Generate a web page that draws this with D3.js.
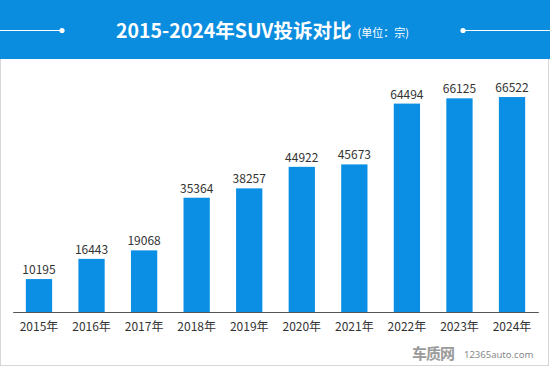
<!DOCTYPE html>
<html><head><meta charset="utf-8">
<script src="https://cdn.jsdelivr.net/npm/d3@7"></script>
<style>html,body{margin:0;padding:0;background:#fff;}svg{display:block;}</style>
</head><body>
<svg id="c" width="550" height="368"></svg>
<script>
const years = ["2015年","2016年","2017年","2018年","2019年","2020年","2021年","2022年","2023年","2024年"];
const complaints = [10195,16443,19068,35364,38257,44922,45673,64494,66125,66522];
const titleText = "2015-2024年SUV投诉对比";
const unitText = "(单位：宗)";

const svg = d3.select("#c");
const font = "'Microsoft YaHei','Noto Sans CJK SC','Noto Sans',sans-serif";

// frame
svg.append("rect").attr("x",0.5).attr("y",0.5).attr("width",548).attr("height",365)
  .attr("fill","#fff").attr("stroke","#d6d6d6").attr("stroke-width",1);

// header
svg.append("rect").attr("x",0).attr("y",0).attr("width",550).attr("height",59).attr("fill","#0b8ddf");
svg.append("line").attr("x1",0).attr("x2",62).attr("y1",30.5).attr("y2",30.5).attr("stroke","#fff").attr("stroke-width",1);
svg.append("circle").attr("cx",62).attr("cy",30.5).attr("r",2.6).attr("fill","#fff");
svg.append("line").attr("x1",463).attr("x2",550).attr("y1",30.5).attr("y2",30.5).attr("stroke","#fff").attr("stroke-width",1);
svg.append("circle").attr("cx",463).attr("cy",30.5).attr("r",2.6).attr("fill","#fff");

const t = svg.append("text").attr("x",116).attr("y",38).attr("fill","#fff").attr("font-family",font);
t.append("tspan").attr("font-size",19.5).attr("font-weight","bold").text(titleText);
t.append("tspan").attr("font-size",11).attr("dx",6).attr("dy",-1).text(unitText);

// chart
const x = d3.scaleBand().domain(years).range([12.7,538.3]).paddingInner(0.5).paddingOuter(0.25);
const y = d3.scaleLinear().domain([0,70000]).range([312,85.8]);

const g = svg.append("g");
g.selectAll("rect.bar").data(complaints).join("rect").attr("class","bar")
  .attr("x",(d,i)=>x(years[i])).attr("width",x.bandwidth())
  .attr("y",d=>y(d)).attr("height",d=>y(0)-y(d)).attr("fill","#0b8fe5");

g.selectAll("text.val").data(complaints).join("text").attr("class","val")
  .attr("x",(d,i)=>x(years[i])+x.bandwidth()/2).attr("y",d=>y(d)-5)
  .attr("text-anchor","middle").attr("font-size",12).attr("fill","#333").attr("font-family",font)
  .text(d=>d);

const ax = svg.append("g").attr("transform","translate(0,312)")
  .call(d3.axisBottom(x).tickSize(0).tickPadding(10));
ax.select(".domain").attr("stroke","#555");
ax.selectAll("text").attr("font-size",12).attr("fill","#333").attr("font-family",font);

// watermark
svg.append("text").attr("x",412).attr("y",359).attr("font-size",15).attr("font-weight","bold")
  .attr("fill","#9a9a9a").attr("font-family",font).attr("letter-spacing",-1).text("车质网");
svg.append("text").attr("x",464).attr("y",358).attr("font-size",9.5)
  .attr("fill","#8a8a8a").attr("font-family","'Noto Sans',sans-serif").text("12365auto.com");
</script>
</body></html>
